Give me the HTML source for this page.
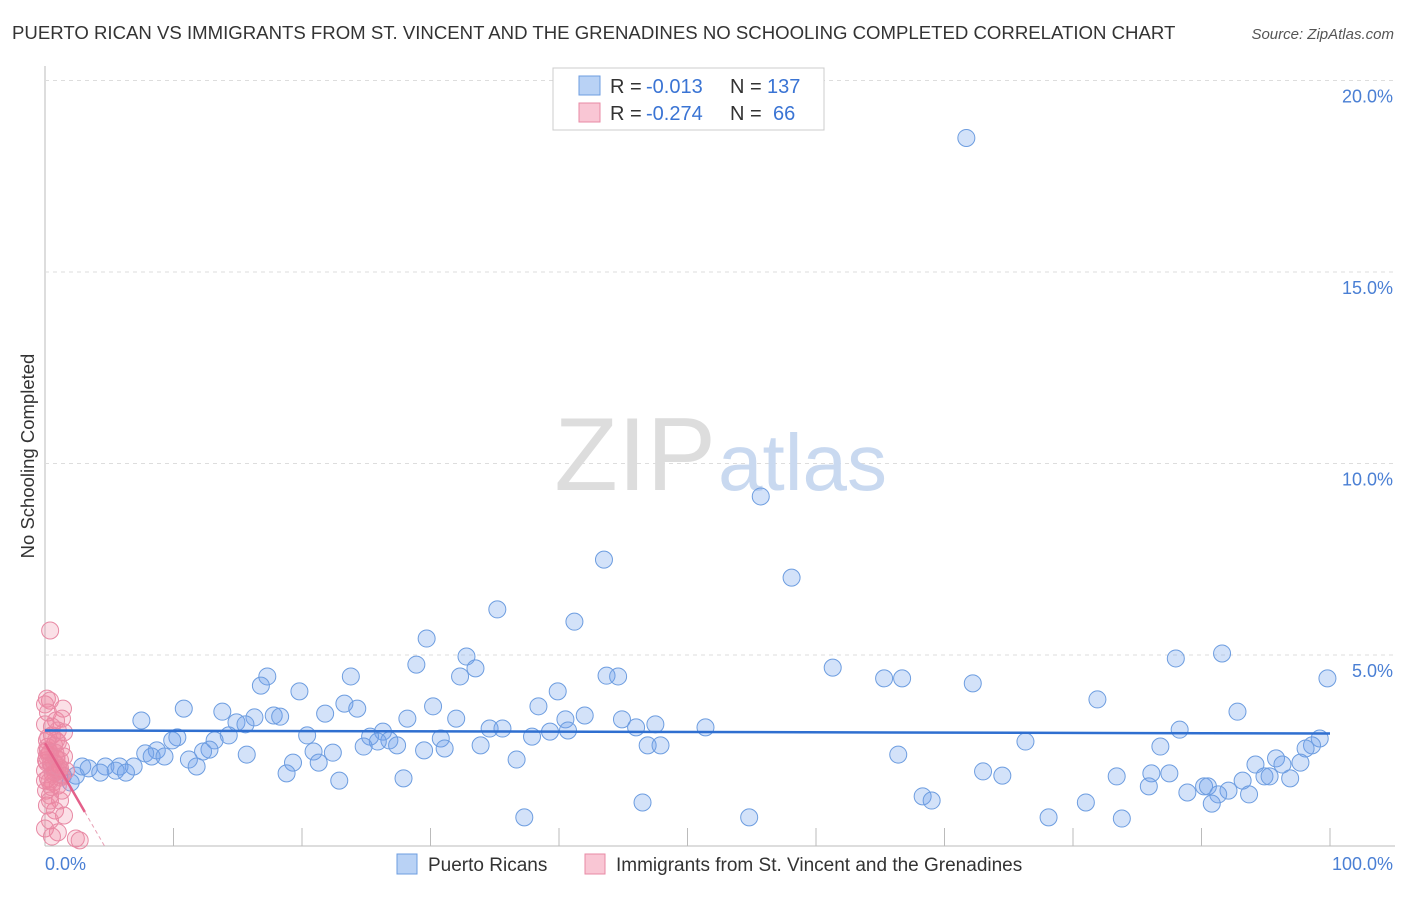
<!DOCTYPE html>
<html><head><meta charset="utf-8"><style>
body{margin:0;background:#fff;font-family:"Liberation Sans",sans-serif;}
svg text{font-family:"Liberation Sans",sans-serif;}
</style></head><body>
<svg id="chart" width="1406" height="892" xmlns="http://www.w3.org/2000/svg">
<text x="12" y="39" font-size="18.6" fill="#333">PUERTO RICAN VS IMMIGRANTS FROM ST. VINCENT AND THE GRENADINES NO SCHOOLING COMPLETED CORRELATION CHART</text>
<text x="1394" y="39" font-size="15" fill="#555" text-anchor="end" font-style="italic">Source: ZipAtlas.com</text>
<g id="grid"></g>
<text x="716" y="490" font-size="104" fill="#ddd" text-anchor="end" font-family="Liberation Serif">ZIP</text>
<text x="718" y="490" font-size="80" fill="#c9d9f0">atlas</text>
<text transform="translate(34,456) rotate(-90)" font-size="18.5" fill="#333" text-anchor="middle">No Schooling Completed</text>
<g id="marks"></g>
<g>
<rect x="553" y="68" width="271" height="62" fill="#fff" stroke="#ccc"/>
<rect x="579" y="76" width="21" height="19" fill="#b9d2f5" stroke="#6d9de0"/>
<rect x="579" y="103" width="21" height="19" fill="#f9c6d4" stroke="#e88aa5"/>
<text x="610" y="93" font-size="20" fill="#333">R =</text>
<text x="646" y="93" font-size="20" fill="#3a74d4">-0.013</text>
<text x="730" y="93" font-size="20" fill="#333">N =</text>
<text x="767" y="93" font-size="20" fill="#3a74d4">137</text>
<text x="610" y="120" font-size="20" fill="#333">R =</text>
<text x="646" y="120" font-size="20" fill="#3a74d4">-0.274</text>
<text x="730" y="120" font-size="20" fill="#333">N =</text>
<text x="773" y="120" font-size="20" fill="#3a74d4">66</text>
</g>
<g>
<rect x="397" y="854" width="20" height="20" fill="#b9d2f5" stroke="#6d9de0"/>
<text x="428" y="871" font-size="19" fill="#333">Puerto Ricans</text>
<rect x="585" y="854" width="20" height="20" fill="#f9c6d4" stroke="#e88aa5"/>
<text x="616" y="871" font-size="19" fill="#333">Immigrants from St. Vincent and the Grenadines</text>
</g>
</svg>
<script>
const yTicks=[5,10,15,20];
const yTickLabels=["5.0%","10.0%","15.0%","20.0%"];
const xTickLabels=["0.0%","100.0%"];
const blueX=[71.7,55.7,43.5,58.1,35.2,41.2,29.7,32.8,28.9,33.5,61.3,88.0,91.6,99.8,17.3,23.8,32.3,43.7,44.6,65.3,66.7,72.2,16.8,19.8,39.9,81.9,23.3,10.8,30.2,38.4,24.3,13.8,92.8,21.8,17.8,18.3,16.3,42.0,28.2,7.5,32.0,40.5,14.9,44.9,15.6,47.5,34.6,35.6,51.4,40.7,46.0,88.3,26.3,39.3,20.4,14.3,25.3,10.3,26.8,30.8,37.9,99.2,9.9,13.2,76.3,25.9,27.4,24.8,33.9,46.9,47.9,98.6,86.8,31.1,29.5,12.8,8.7,98.1,12.3,7.8,20.9,22.4,15.7,8.3,66.4,9.3,11.2,36.7,95.8,94.2,96.3,97.7,19.3,21.3,2.9,6.9,4.7,3.4,11.8,5.8,5.5,4.3,6.3,73.0,74.5,18.8,86.1,87.5,1.4,2.4,83.4,94.9,95.3,96.9,93.2,2.0,27.9,22.9,85.9,90.2,90.5,92.1,88.9,93.7,91.3,68.3,69.0,46.5,81.0,90.8,37.3,54.8,78.1,83.8];
const blueY=[18.5,9.14,7.49,7.02,6.19,5.87,5.43,4.96,4.75,4.65,4.67,4.91,5.04,4.39,4.44,4.44,4.44,4.46,4.44,4.39,4.39,4.26,4.20,4.05,4.05,3.84,3.73,3.60,3.66,3.66,3.60,3.52,3.52,3.47,3.42,3.39,3.37,3.42,3.34,3.29,3.34,3.32,3.24,3.32,3.19,3.19,3.08,3.08,3.11,3.03,3.11,3.05,3.00,3.00,2.90,2.90,2.87,2.85,2.77,2.82,2.87,2.82,2.77,2.77,2.74,2.74,2.64,2.61,2.64,2.64,2.64,2.64,2.61,2.56,2.51,2.53,2.51,2.56,2.48,2.43,2.48,2.45,2.40,2.35,2.40,2.35,2.27,2.27,2.30,2.14,2.14,2.19,2.19,2.19,2.09,2.09,2.09,2.04,2.09,2.09,1.98,1.93,1.93,1.96,1.85,1.91,1.91,1.91,1.85,1.85,1.83,1.83,1.83,1.78,1.72,1.67,1.78,1.72,1.57,1.57,1.57,1.46,1.41,1.36,1.36,1.31,1.20,1.15,1.15,1.12,0.76,0.76,0.76,0.73];
const pinkX=[0.4,0.15,0.39,0,1.4,0.23,1.32,0.86,0,1.48,0.54,0.15,1.0,1.25,0.39,1.48,0.86,0.15,0.54,1.17,0,0.78,1.32,0.23,0.62,1.0,0.08,0.39,1.17,0.15,0.78,1.48,0.39,0,1.0,0.54,2.4,2.7,0.23,0.7,1.17,1.63,0,0.39,0.93,1.32,0.08,0.86,0.54,1.0,0.3,0.7,1.1,0.2,0.6,0.9,0.45,1.2,0.1,0.65,0.35,0.8,0.25,1.05,0.5,0.15];
const pinkY=[5.64,3.86,3.81,3.71,3.6,3.5,3.34,3.29,3.19,2.98,2.9,2.77,2.72,2.56,2.45,2.35,2.3,2.19,2.11,2.04,1.98,1.93,1.85,1.78,1.67,1.59,1.46,1.33,1.2,1.07,0.94,0.81,0.68,0.47,0.37,0.26,0.21,0.16,2.51,2.64,2.25,1.98,1.72,1.2,1.98,1.46,2.25,2.77,3.13,3.03,2.4,2.2,2.0,2.6,1.9,2.3,2.15,1.8,2.5,2.05,1.7,2.45,2.85,2.1,1.55,2.35];
const blueTrend=[3.03,2.95];
const pinkTrend=[2.7,-0.58];
const X0=45,X1=1330,Y0=846.5,PPU=38.3;
const sx=v=>X0+(X1-X0)*v/100, sy=v=>Y0-v*PPU;
const NS="http://www.w3.org/2000/svg";
function mk(t,a,p){const e=document.createElementNS(NS,t);for(const k in a)e.setAttribute(k,a[k]);p.appendChild(e);return e;}
const grid=document.getElementById('grid'),marks=document.getElementById('marks');
const ax=mk('line',{x1:45,y1:66,x2:45,y2:846,stroke:'#bbb','stroke-width':1},grid);


const bx=mk('line',{x1:45,y1:846,x2:1395,y2:846,stroke:'#bbb','stroke-width':1},grid);


yTicks.forEach((t,i)=>{
 const g=mk('line',{x1:45,x2:1395,y1:sy(t),y2:sy(t),stroke:'#ddd','stroke-dasharray':'4,4'},grid);
 
 
 const l=mk('text',{x:1393,y:sy(t)+22,'font-size':18,fill:'#4a7fd4','text-anchor':'end'},grid);l.textContent=yTickLabels[i];
 
 
});
for(let i=0;i<=10;i++){
 const t=mk('line',{x1:sx(i*10),x2:sx(i*10),y1:828,y2:846,stroke:'#bbb'},grid);
 
 
}
xTickLabels.forEach((s,i)=>{
 const l=mk('text',{x:i?1393:45,y:870,'font-size':18,fill:'#4a7fd4','text-anchor':i?'end':'start'},grid);l.textContent=s;
 
 
});
blueX.forEach((x,i)=>{
 const c=mk('circle',{cx:sx(x),cy:sy(blueY[i]),r:8.5,fill:'rgba(110,160,235,0.3)',stroke:'#6d9de0','stroke-width':1},marks);
 
 
});
pinkX.forEach((x,i)=>{
 const c=mk('circle',{cx:sx(x),cy:sy(pinkY[i]),r:8.5,fill:'rgba(240,130,160,0.25)',stroke:'#e88aa5','stroke-width':1},marks);
 
 
});
const bl=mk('line',{x1:sx(0),y1:sy(blueTrend[0]),x2:sx(100),y2:sy(blueTrend[1]),stroke:'#2f6fd0','stroke-width':2.5},marks);


const pEnd=3.1, pZero=-pinkTrend[0]/pinkTrend[1];
const pl=mk('line',{x1:sx(0),y1:sy(pinkTrend[0]),x2:sx(pEnd),y2:sy(pinkTrend[0]+pinkTrend[1]*pEnd),stroke:'#e4608a','stroke-width':2.5},marks);


const pd=mk('line',{x1:sx(pEnd),y1:sy(pinkTrend[0]+pinkTrend[1]*pEnd),x2:sx(pZero),y2:sy(0),stroke:'#e8a0b5','stroke-width':1,'stroke-dasharray':'4,3'},marks);


</script>
</body></html>
